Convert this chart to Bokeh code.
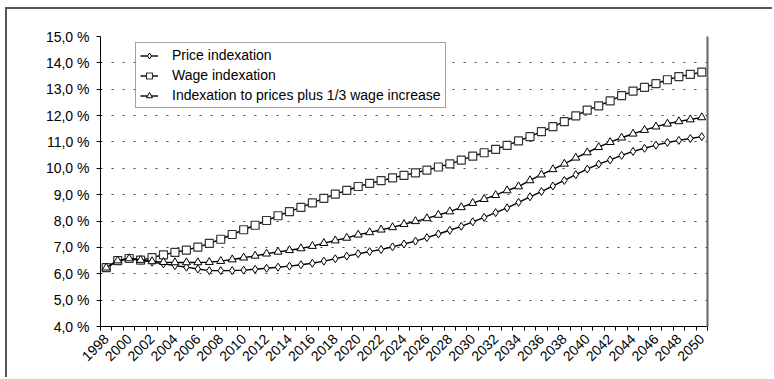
from bokeh.plotting import figure
from bokeh.models import (Range1d, FixedTicker, LinearAxis, CustomJSTickFormatter,
                          Legend)
from bokeh.embed import file_html
from bokeh.resources import INLINE
import math

# Pension expenditure projections, % of GDP, 1998-2050
years = list(range(1998, 2051))

price_indexation = [
    6.23, 6.50, 6.57, 6.52, 6.44, 6.38, 6.31, 6.25, 6.18, 6.12,
    6.12, 6.12, 6.14, 6.17, 6.21, 6.25, 6.29, 6.34, 6.40, 6.48,
    6.57, 6.67, 6.76, 6.84, 6.92, 7.02, 7.13, 7.24, 7.37, 7.51,
    7.65, 7.80, 7.97, 8.14, 8.32, 8.50, 8.71, 8.92, 9.12, 9.33,
    9.54, 9.76, 9.97, 10.16, 10.32, 10.49, 10.64, 10.76, 10.88, 10.98,
    11.06, 11.13, 11.20,
]

wage_indexation = [
    6.23, 6.50, 6.58, 6.52, 6.61, 6.72, 6.81, 6.90, 7.01, 7.15,
    7.31, 7.49, 7.67, 7.84, 8.02, 8.20, 8.36, 8.52, 8.69, 8.86,
    9.02, 9.16, 9.31, 9.43, 9.53, 9.64, 9.73, 9.83, 9.93, 10.05,
    10.17, 10.31, 10.46, 10.59, 10.72, 10.87, 11.04, 11.20, 11.39, 11.58,
    11.77, 11.99, 12.21, 12.37, 12.56, 12.76, 12.93, 13.07, 13.21, 13.36,
    13.48, 13.56, 13.65,
]

mixed_indexation = [
    6.23, 6.50, 6.58, 6.52, 6.47, 6.44, 6.43, 6.43, 6.43, 6.44,
    6.48, 6.54, 6.61, 6.68, 6.76, 6.83, 6.89, 6.96, 7.05, 7.16,
    7.26, 7.36, 7.48, 7.57, 7.67, 7.76, 7.88, 7.99, 8.10, 8.23,
    8.36, 8.52, 8.68, 8.83, 8.98, 9.16, 9.31, 9.54, 9.76, 9.96,
    10.17, 10.40, 10.60, 10.80, 10.99, 11.16, 11.31, 11.45, 11.58, 11.69,
    11.78, 11.85, 11.93,
]

series_labels = [
    "Price indexation",
    "Wage indexation",
    "Indexation to prices plus 1/3 wage increase",
]

y_ticks = list(range(4, 16))
x_label_years = list(range(1998, 2051, 2))

FONT = "Liberation Sans"

# the chart sits inside a frame whose top and left edges show; the frame
# is an offset shadow of the figure element, peeking out above and left
p = figure(
    width=767, height=370,
    output_backend="svg", toolbar_location=None,
    x_range=Range1d(1997.5, 2050.5), y_range=Range1d(4, 15),
    min_border_left=93, min_border_right=67,
    min_border_top=27, min_border_bottom=53,
    background_fill_color="white", border_fill_color="white",
    outline_line_color=None,
    styles={"margin-left": "7px", "margin-top": "9px",
            "box-shadow": "-2px -2px 0 0 #555555"},
)

# x axis: labels every other year, tick marks on category boundaries
xt = FixedTicker(ticks=x_label_years,
                 minor_ticks=[y - 0.5 for y in years] + [2050.5])
p.xaxis.ticker = xt
p.xaxis.major_label_orientation = math.pi / 4
p.xaxis.major_tick_line_color = None
p.xaxis.minor_tick_line_color = "black"
p.xaxis.minor_tick_in = 0
p.xaxis.minor_tick_out = 4
p.xaxis.axis_line_color = "black"
p.xaxis.major_label_text_font = FONT
p.xaxis.major_label_text_font_size = "14px"
p.xaxis.major_label_text_color = "black"
p.xaxis.major_label_standoff = 4

# y axis: percentages with decimal comma
p.yaxis.ticker = FixedTicker(ticks=y_ticks, minor_ticks=[])
p.yaxis.formatter = CustomJSTickFormatter(
    code="return tick.toFixed(1).replace('.', ',') + ' %';")
p.yaxis.major_tick_in = 0
p.yaxis.major_tick_out = 4
p.yaxis.major_tick_line_color = "black"
p.yaxis.axis_line_color = "black"
p.yaxis.major_label_text_font = FONT
p.yaxis.major_label_text_font_size = "14px"
p.yaxis.major_label_text_color = "black"
p.yaxis.major_label_standoff = 7

p.xgrid.grid_line_color = None
p.ygrid.ticker = FixedTicker(ticks=y_ticks[1:])
p.ygrid.grid_line_color = "#444444"
p.ygrid.grid_line_dash = "2 9"
p.ygrid.grid_line_width = 1

# right edge of the plot area
right_axis = LinearAxis(axis_line_color="#666666", axis_line_width=2,
                        major_tick_line_color=None, minor_tick_line_color=None,
                        major_label_text_font_size="0px",
                        ticker=FixedTicker(ticks=[]))
p.add_layout(right_axis, "right")

line_kw = dict(line_color="black", line_width=1.4)

r1l = p.line(years, price_indexation, **line_kw)
r1m = p.scatter(years, price_indexation, marker="diamond", size=8,
                fill_color="white", line_color="black", line_width=1)
r2l = p.line(years, wage_indexation, **line_kw)
r2m = p.scatter(years, wage_indexation, marker="square", size=8,
                fill_color="white", line_color="#333333", line_width=1.2)
r3l = p.line(years, mixed_indexation, **line_kw)
r3m = p.scatter(years, mixed_indexation, marker="triangle", size=8,
                fill_color="white", line_color="black", line_width=1)

legend = Legend(
    items=[(series_labels[0], [r1l, r1m]),
           (series_labels[1], [r2l, r2m]),
           (series_labels[2], [r3l, r3m])],
    location=(35, 218),
    label_text_font=FONT, label_text_font_size="14px",
    label_text_color="black",
    glyph_width=18, glyph_height=15, label_height=15,
    label_standoff=14, spacing=4, padding=4, margin=0,
    border_line_color="#444444", border_line_width=1,
    background_fill_color="white", background_fill_alpha=1,
)
p.add_layout(legend, "center")

open("out.html", "w").write(file_html(p, INLINE))
